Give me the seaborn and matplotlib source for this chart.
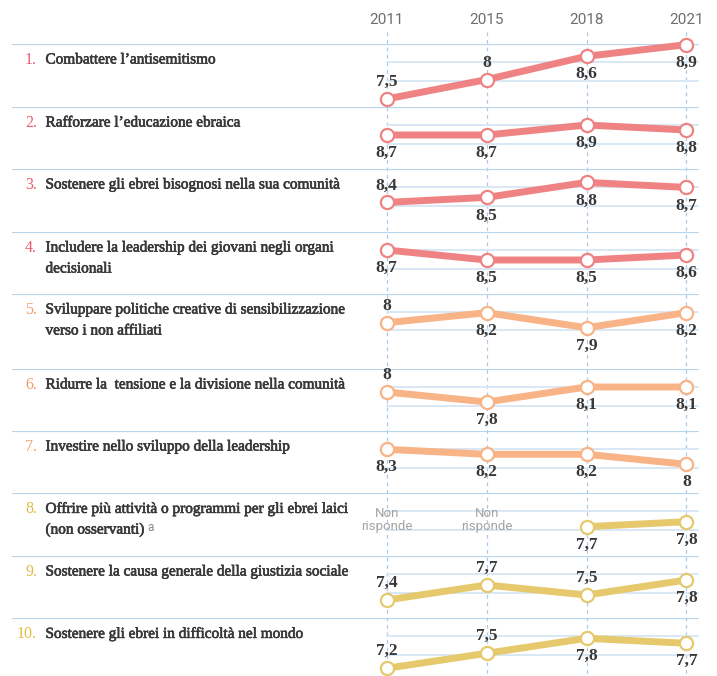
import numpy as np
import pandas as pd
import seaborn as sns
import matplotlib.pyplot as plt
import matplotlib.patheffects as pe

# data
years = ['2011', '2015', '2018', '2021']
labels = [
    "Combattere l\u2019antisemitismo",
    "Rafforzare l\u2019educazione ebraica",
    "Sostenere gli ebrei bisognosi nella sua comunità",
    "Includere la leadership dei giovani negli organi\ndecisionali",
    "Sviluppare politiche creative di sensibilizzazione\nverso i non affiliati",
    "Ridurre la  tensione e la divisione nella comunità",
    "Investire nello sviluppo della leadership",
    "Offrire più attività o programmi per gli ebrei laici\n(non osservanti)",
    "Sostenere la causa generale della giustizia sociale",
    "Sostenere gli ebrei in difficoltà nel mondo",
]
v1 = [7.5, 8.0, 8.6, 8.9]
v2 = [8.7, 8.7, 8.9, 8.8]
v3 = [8.4, 8.5, 8.8, 8.7]
v4 = [8.7, 8.5, 8.5, 8.6]
v5 = [8.0, 8.2, 7.9, 8.2]
v6 = [8.0, 7.8, 8.1, 8.1]
v7 = [8.3, 8.2, 8.2, 8.0]
v8 = [np.nan, np.nan, 7.7, 7.8]
v9 = [7.4, 7.7, 7.5, 7.8]
v10 = [7.2, 7.5, 7.8, 7.7]
values = [v1, v2, v3, v4, v5, v6, v7, v8, v9, v10]
no_answer = "Non\nrisponde"
footnote_row = 7

# layout / style (pixels of a 717x676 canvas)
W, H = 717, 676
row_top = [44, 107, 169, 232, 294, 369, 431, 493, 556, 618, 676]
y_at_top = [8.917, 9.26, 9.068, 9.06, 8.574, 8.46, 8.666, 8.374, 8.28, 8.206]
px_per_unit = [38.8] + [50] * 9
label_side = ['aabb', 'bbbb', 'abbb', 'bbbb', 'abbb', 'abbb', 'bbbb', '--bb', 'aaab', 'aabb']
x0_px, step_px = 386.7, 99.9
xlim = (-x0_px / step_px, (W - x0_px) / step_px)

red, orange, yellow = '#EF8383', '#F8B386', '#E6C96C'
num_red, num_orange, num_yellow = '#EC5B6B', '#F59C6B', '#E3BC43'
line_cols = [red] * 4 + [orange] * 3 + [yellow] * 3
num_cols = [num_red] * 4 + [num_orange] * 3 + [num_yellow] * 3
sep_col = '#B9D5EC'
grid_col = '#D9E8F5'
dash_col = '#A9CCEB'
text_col = '#383838'

serif = ['Liberation Serif', 'DejaVu Serif']
narrow = ['Liberation Sans Narrow', 'Roboto', 'DejaVu Sans']
heavier = [pe.withStroke(linewidth=0.45, foreground=text_col)]

sns.set_theme(style='white')
plt.rcParams['font.family'] = serif

fig = plt.figure(figsize=(W / 100, H / 100), dpi=100)

# background: year header and dashed verticals
bg = fig.add_axes([0, 0, 1, 1])
bg.set_xlim(*xlim)
bg.set_ylim(H, 0)
bg.axis('off')
pos = np.arange(len(years))
bg.vlines(pos, 32, H, colors=dash_col, linestyles=(0, (3, 3)), lw=0.9, zorder=0)
for i, yr in enumerate(years):
    bg.text(pos[i], 20, yr, ha='center', va='center', fontsize=11,
            color='#6E6E6E', family=narrow)


def fmt(v):
    s = f"{v:.1f}".replace('.', ',')
    return s[:-2] if s.endswith(',0') else s


for r in range(10):
    top, bot = row_top[r], row_top[r + 1]
    h = bot - top
    ax = fig.add_axes([0, 1 - bot / H, 1, h / H])
    ax.set_xlim(*xlim)
    ax.set_ylim(y_at_top[r] - h / px_per_unit[r], y_at_top[r])
    ax.axis('off')

    # separator and inner gridlines
    ax.axhline(y_at_top[r], xmin=13 / W, xmax=698 / W, color=sep_col, lw=1.6, zorder=1)
    for off in (18.3, 36.5):
        ax.axhline(y_at_top[r] - off / px_per_unit[r], xmin=x0_px / W, xmax=698 / W,
                   color=grid_col, lw=1.4, zorder=1)

    df = pd.DataFrame({'pos': pos, 'val': values[r]}).dropna()
    sns.lineplot(data=df, x='pos', y='val', ax=ax, color=line_cols[r], lw=5,
                 marker='o', ms=9.5, mfc='white', mec=line_cols[r], mew=1.6,
                 clip_on=False, zorder=3, legend=False)

    for i, v in enumerate(values[r]):
        if np.isnan(v):
            ax.text(pos[i], y_at_top[r] - 27 / px_per_unit[r], no_answer, ha='center',
                    va='center', fontsize=9.5, color='#A3A3A3', family=narrow,
                    linespacing=1.0)
            continue
        dy = 17 if label_side[r][i] == 'a' else -18
        ax.annotate(fmt(v), (pos[i], v), xytext=(0, dy), textcoords='offset pixels',
                    ha='center', va='center', fontsize=12.5, fontweight='bold',
                    color=text_col, zorder=5, annotation_clip=False)

    # row label, one text per line
    ax.text(37 / W, 1 - 16 / h, f"{r + 1}.", transform=ax.transAxes, ha='right',
            va='center', fontsize=11.5, color=num_cols[r])
    for j, line in enumerate(labels[r].split('\n')):
        t = ax.text(45.5 / W, 1 - (16 + 21 * j) / h, line, transform=ax.transAxes,
                    ha='left', va='center', fontsize=11, color=text_col,
                    path_effects=heavier)
    if r == footnote_row:
        ax.annotate('a', xy=(1, 0.7), xycoords=t, xytext=(3, 0),
                    textcoords='offset pixels', fontsize=8.5, color='#8A8A8A',
                    family=narrow, va='center')

fig.savefig('out.png', dpi=100)
